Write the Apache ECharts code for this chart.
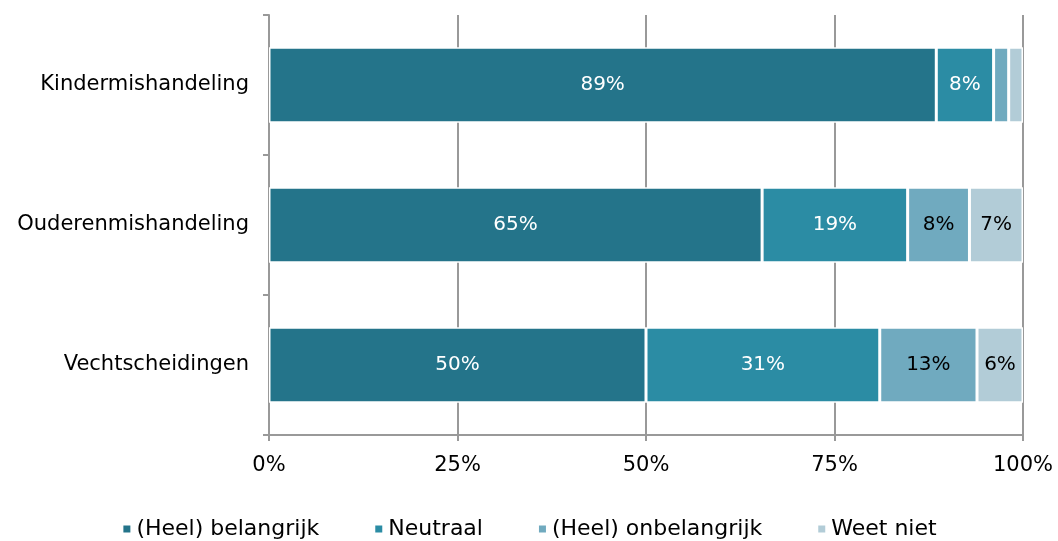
<!DOCTYPE html>
<html>
<head>
<meta charset="utf-8">
<script src="https://cdn.jsdelivr.net/npm/echarts@6/dist/echarts.min.js"></script>
<style>
  html, body { margin: 0; padding: 0; background: #fff; }
  #chart { width: 1058px; height: 541px; }
</style>
</head>
<body>
<div id="chart"></div>
<script>
  // categories bottom-to-top as ECharts draws them
  const categories = ['Vechtscheidingen', 'Ouderenmishandeling', 'Kindermishandeling']
  const seriesNames = ['(Heel) belangrijk', 'Neutraal', '(Heel) onbelangrijk', 'Weet niet']
  const belangrijk = [50.0, 65.4, 88.5]
  const neutraal = [31.0, 19.3, 7.6]
  const onbelangrijk = [12.9, 8.2, 2.0]
  const weetNiet = [6.1, 7.1, 1.9]
  const xTicks = [0, 25, 50, 75, 100]

  const colors = ['#24748a', '#2b8ca4', '#70aabf', '#b2ccd7']
  const labelColors = ['#ffffff', '#ffffff', '#000000', '#000000']
  const font = 'DejaVu Sans, Verdana, sans-serif'

  const chart = echarts.init(document.getElementById('chart'))

  const makeSeries = (name, data, i) => ({
    name: name,
    type: 'bar',
    stack: 'total',
    barWidth: '54%',
    data: data,
    itemStyle: { color: colors[i], borderColor: '#fff', borderWidth: 1.5 },
    label: {
      show: true,
      color: labelColors[i],
      fontFamily: font,
      fontSize: 20,
      formatter: p => p.value >= 5 ? Math.round(p.value) + '%' : ''
    }
  })

  chart.setOption({
    color: colors,
    animation: false,
    grid: { left: 269, right: 35, top: 15, bottom: 106 },
    legend: {
      top: 513,
      left: 'center',
      itemWidth: 9,
      itemHeight: 9,
      itemGap: 54,
      icon: 'rect',
      textStyle: { fontFamily: font, fontSize: 22, color: '#000' },
      data: seriesNames
    },
    xAxis: {
      type: 'value',
      min: 0,
      max: 100,
      interval: 25,
      axisLine: { show: true, lineStyle: { color: '#999', width: 2 } },
      axisTick: { show: true, length: 6, lineStyle: { color: '#999', width: 2 } },
      splitLine: { show: true, lineStyle: { color: '#999', width: 2 } },
      axisLabel: {
        margin: 20,
        fontFamily: font,
        fontSize: 21,
        color: '#000',
        formatter: v => xTicks.includes(v) ? v + '%' : ''
      }
    },
    yAxis: {
      type: 'category',
      data: categories,
      axisLine: { show: true, lineStyle: { color: '#999', width: 2 } },
      axisTick: { show: true, length: 6, lineStyle: { color: '#999', width: 2 } },
      axisLabel: { margin: 20, fontFamily: font, fontSize: 21, color: '#000' }
    },
    series: [
      makeSeries(seriesNames[0], belangrijk, 0),
      makeSeries(seriesNames[1], neutraal, 1),
      makeSeries(seriesNames[2], onbelangrijk, 2),
      makeSeries(seriesNames[3], weetNiet, 3)
    ]
  })
</script>
</body>
</html>
